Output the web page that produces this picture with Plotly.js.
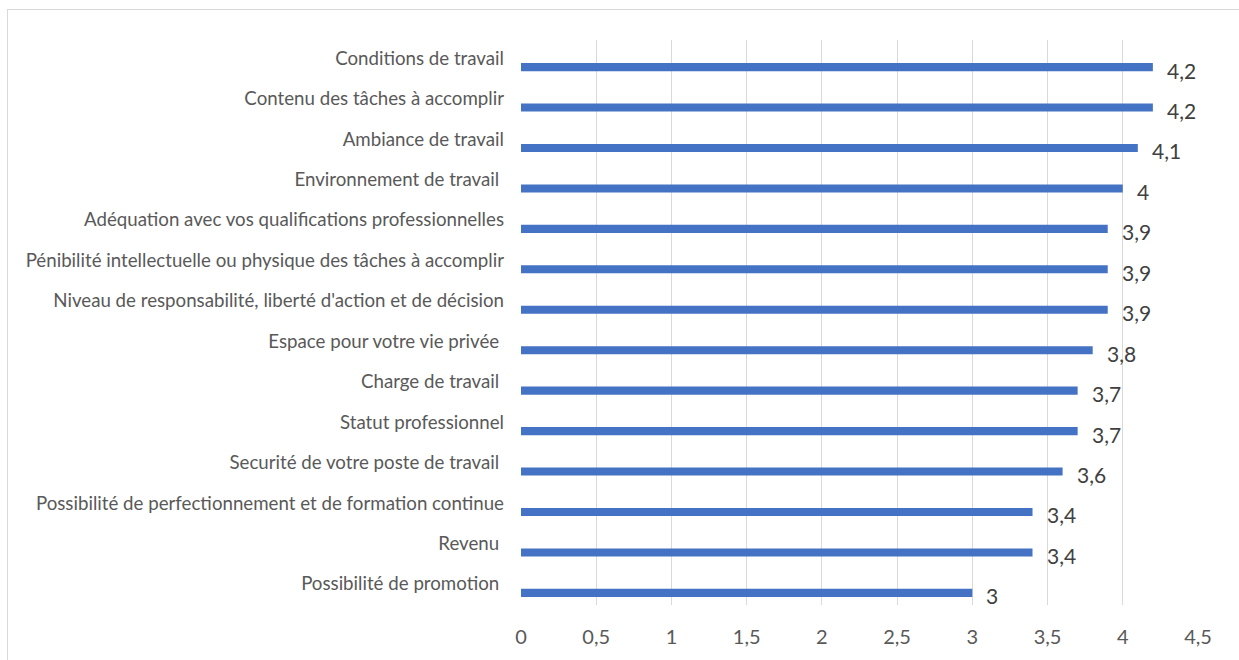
<!DOCTYPE html>
<html>
<head>
<meta charset="utf-8">
<script src="https://cdn.plot.ly/plotly-3.0.1.min.js"></script>
<style>
  html, body { margin: 0; padding: 0; background: #fff; }
  #wrap { position: relative; width: 1239px; height: 660px; overflow: hidden; }
  #frame { position: absolute; left: 7px; top: 9px; width: 1250px; height: 670px; border: 1px solid #D9D9D9; box-sizing: border-box; }
  #chart { position: absolute; left: 0; top: 0; width: 1239px; height: 660px; }
</style>
</head>
<body>
<div id="wrap">
  <div id="frame"></div>
  <div id="chart"></div>
</div>
<script>
const categories = [
  "Conditions de travail",
  "Contenu des tâches à accomplir",
  "Ambiance de travail",
  "Environnement de travail\u00a0",
  "Adéquation avec vos qualifications professionnelles",
  "Pénibilité intellectuelle ou physique des tâches à accomplir",
  "Niveau de responsabilité, liberté d'action et de décision",
  "Espace pour votre vie privée\u00a0",
  "Charge de travail\u00a0",
  "Statut professionnel",
  "Securité de votre poste de travail\u00a0",
  "Possibilité de perfectionnement et de formation continue",
  "Revenu\u00a0",
  "Possibilité de promotion\u00a0"
];
const values = [4.2, 4.2, 4.1, 4.0, 3.9, 3.9, 3.9, 3.8, 3.7, 3.7, 3.6, 3.4, 3.4, 3.0];
const tickValues = [0, 0.5, 1, 1.5, 2, 2.5, 3, 3.5, 4, 4.5];

const fmt = v => String(v).replace('.', ',');

const trace = {
  type: 'bar',
  orientation: 'h',
  x: values,
  y: categories,
  width: 0.2,
  marker: { color: '#4472C4' },
  hoverinfo: 'none'
};

const annotations = values.map((v, i) => ({
  x: v, y: categories[i], xref: 'x', yref: 'y',
  text: fmt(v), showarrow: false,
  xanchor: 'left', yanchor: 'middle',
  xshift: 12, yshift: -3,
  font: { family: 'Lato, Carlito, sans-serif', size: 21, color: '#404040' }
}));

const layout = {
  width: 1239, height: 660,
  margin: { l: 521, r: 41, t: 40, b: 55 },
  paper_bgcolor: 'rgba(0,0,0,0)',
  plot_bgcolor: 'rgba(0,0,0,0)',
  separators: ', ',
  showlegend: false,
  xaxis: {
    range: [0, 4.5],
    tickvals: tickValues,
    ticktext: tickValues.map(fmt),
    showgrid: true, gridcolor: '#D9D9D9', gridwidth: 1,
    zeroline: false, showline: false, ticks: '',
    ticklabelstandoff: 18,
    tickfont: { family: 'Lato, Carlito, sans-serif', size: 20, color: '#595959' },
    fixedrange: true
  },
  yaxis: {
    type: 'category',
    categoryorder: 'array', categoryarray: categories,
    range: [13.3, -0.67],
    showgrid: false, zeroline: false, showline: false, ticks: '',
    ticklabelstandoff: 16,
    ticklabelshift: 9,
    tickfont: { family: 'Lato, Carlito, sans-serif', size: 18.7, color: '#595959' },
    fixedrange: true
  },
  annotations: annotations
};

Plotly.newPlot('chart', [trace], layout, { displayModeBar: false, staticPlot: true });
</script>
</body>
</html>
